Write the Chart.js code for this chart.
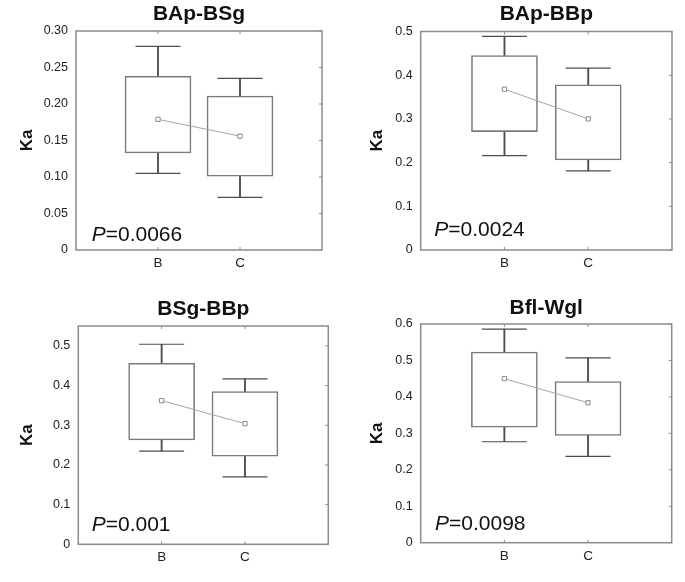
<!DOCTYPE html>
<html>
<head>
<meta charset="utf-8">
<script src="https://cdn.jsdelivr.net/npm/chart.js@4/dist/chart.umd.min.js"></script>
<style>
  body { margin: 0; background: #fff; }
  canvas { position: absolute; }
</style>
</head>
<body>
<canvas id="c0"></canvas>
<canvas id="c1"></canvas>
<canvas id="c2"></canvas>
<canvas id="c3"></canvas>
<script>
// data, one entry per panel, [B, C] inside
const categories = ['B', 'C'];
const titles = ['BAp-BSg', 'BAp-BBp', 'BSg-BBp', 'Bfl-Wgl'];
const pValues = ['0.0066', '0.0024', '0.001', '0.0098'];
const whiskerHigh = [[0.279, 0.235], [0.489, 0.416], [0.504, 0.417], [0.586, 0.507]];
const boxHigh     = [[0.238, 0.211], [0.445, 0.378], [0.456, 0.385], [0.523, 0.442]];
const boxLow      = [[0.133, 0.101], [0.271, 0.206], [0.263, 0.222], [0.317, 0.294]];
const whiskerLow  = [[0.105, 0.072], [0.216, 0.181], [0.235, 0.170], [0.277, 0.237]];
const means       = [[0.179, 0.156], [0.368, 0.300], [0.362, 0.304], [0.450, 0.384]];
const yMax = [0.30, 0.5, 0.55, 0.6];
const yTicks = [
  [0, 0.05, 0.10, 0.15, 0.20, 0.25, 0.30],
  [0, 0.1, 0.2, 0.3, 0.4, 0.5],
  [0, 0.1, 0.2, 0.3, 0.4, 0.5],
  [0, 0.1, 0.2, 0.3, 0.4, 0.5, 0.6]
];
const yTickLabels = [
  ['0', '0.05', '0.10', '0.15', '0.20', '0.25', '0.30'],
  ['0', '0.1', '0.2', '0.3', '0.4', '0.5'],
  ['0', '0.1', '0.2', '0.3', '0.4', '0.5'],
  ['0', '0.1', '0.2', '0.3', '0.4', '0.5', '0.6']
];

// layout of each panel
const panels = [
  { left: 0,   top: 0,   w: 340, h: 280, yW: 76,   xH: 30,   padR: 18,   tTop: 2,    tBot: 3.8, ka: 17, pdx: 15.7, pdy: 9.5 },
  { left: 340, top: 0,   w: 345, h: 280, yW: 80.7, xH: 30,   padR: 13,   tTop: 2,    tBot: 4.3, ka: 27, pdx: 13.6, pdy: 14.3 },
  { left: 0,   top: 285, w: 340, h: 297, yW: 78.3, xH: 37.7, padR: 11.7, tTop: 11.4, tBot: 4.4, ka: 17, pdx: 13.4, pdy: 13.3 },
  { left: 340, top: 285, w: 345, h: 297, yW: 80.7, xH: 39.3, padR: 13.3, tTop: 10.9, tBot: 2.9, ka: 27, pdx: 14.3, pdy: 12.7 }
];

const FONT = "'Liberation Sans', Arial, sans-serif";
const frameColor = '#8c8c8c';
const boxColor = '#7a7a7a';
const whiskColor = '#4d4d4d';

// frame, inner tick marks and the P value
const panelDecor = {
  id: 'panelDecor',
  afterDatasetsDraw(chart, args, opts) {
    const { ctx, chartArea: a, scales } = chart;
    ctx.save();
    ctx.strokeStyle = frameColor;
    ctx.lineWidth = 1.5;
    ctx.strokeRect(a.left, a.top, a.right - a.left, a.bottom - a.top);
    ctx.lineWidth = 1;
    ctx.beginPath();
    scales.y.ticks.forEach(t => {
      const y = scales.y.getPixelForValue(t.value);
      ctx.moveTo(a.right, y);
      ctx.lineTo(a.right - 3, y);
    });
    scales.x.ticks.forEach(t => {
      const x = scales.x.getPixelForValue(t.value);
      ctx.moveTo(x, a.top);
      ctx.lineTo(x, a.top + 3);
      ctx.moveTo(x, a.bottom);
      ctx.lineTo(x, a.bottom - 3);
    });
    ctx.stroke();

    ctx.fillStyle = '#111';
    ctx.textBaseline = 'alphabetic';
    ctx.textAlign = 'left';
    const x0 = a.left + opts.dx, y0 = a.bottom - opts.dy;
    ctx.font = 'italic 21px ' + FONT;
    ctx.fillText('P', x0, y0);
    const pw = ctx.measureText('P').width;
    ctx.font = '21px ' + FONT;
    ctx.fillText('=' + opts.text, x0 + pw, y0);
    ctx.restore();
  }
};

panels.forEach((p, i) => {
  const cv = document.getElementById('c' + i);
  cv.width = p.w; cv.height = p.h;
  cv.style.left = p.left + 'px'; cv.style.top = p.top + 'px';
  cv.style.width = p.w + 'px'; cv.style.height = p.h + 'px';

  const xs = [1, 2];
  const stems = xs.map((x, k) => ({ x, y: [whiskerLow[i][k], whiskerHigh[i][k]] }));
  const boxes = xs.map((x, k) => ({ x, y: [boxLow[i][k], boxHigh[i][k]] }));
  const caps = xs.flatMap((x, k) => [{ x, y: whiskerLow[i][k] }, { x, y: whiskerHigh[i][k] }]);
  const meanPts = xs.map((x, k) => ({ x, y: means[i][k] }));

  new Chart(cv, {
    type: 'bar',
    data: {
      datasets: [
        { type: 'line', data: meanPts, order: 0, borderColor: '#a6a6a6', borderWidth: 1,
          pointStyle: 'rect', pointRadius: 3, pointBackgroundColor: '#fff',
          pointBorderColor: '#8a8a8a', pointBorderWidth: 1 },
        { data: boxes, order: 1, grouped: false, barThickness: 66, backgroundColor: '#fff',
          borderColor: boxColor, borderWidth: 1.6, borderSkipped: false },
        { type: 'line', data: caps, order: 2, showLine: false, pointStyle: 'line',
          pointRadius: 22.5, borderColor: whiskColor, pointBorderColor: whiskColor, pointBorderWidth: 1.2 },
        { data: stems, order: 3, grouped: false, barThickness: 1.2, backgroundColor: whiskColor, borderWidth: 0 }
      ]
    },
    options: {
      responsive: false,
      animation: false,
      devicePixelRatio: 1,
      layout: { autoPadding: false, padding: { left: 0, top: 0, right: p.padR, bottom: 0 } },
      plugins: {
        legend: { display: false },
        tooltip: { enabled: false },
        title: {
          display: true, text: titles[i], color: '#111', fullSize: false,
          font: { family: FONT, size: 21, weight: 'bold' },
          padding: { top: p.tTop, bottom: p.tBot }
        },
        panelDecor: { text: pValues[i], dx: p.pdx, dy: p.pdy }
      },
      scales: {
        x: {
          type: 'linear', min: 0, max: 3, offset: false,
          grid: { display: false, drawTicks: false, offset: false },
          border: { display: false },
          afterBuildTicks: s => { s.ticks = xs.map(v => ({ value: v })); },
          afterFit: s => { s.height = p.xH; s.paddingLeft = 0; s.paddingRight = 0; },
          ticks: {
            padding: 5, color: '#222', font: { family: FONT, size: 13.5 },
            callback: v => categories[v - 1] || ''
          }
        },
        y: {
          min: 0, max: yMax[i],
          grid: { display: false, drawTicks: false },
          border: { display: false },
          afterBuildTicks: s => { s.ticks = yTicks[i].map(v => ({ value: v })); },
          afterFit: s => { s.width = p.yW; s.paddingTop = 0; s.paddingBottom = 0; },
          ticks: {
            padding: 8, color: '#222', font: { family: FONT, size: 12.5 },
            callback: (v, idx) => yTickLabels[i][idx]
          },
          title: {
            display: true, text: 'Ka', color: '#111',
            font: { family: FONT, size: 17, weight: 'bold' },
            padding: { top: p.ka, bottom: 0 }
          }
        }
      }
    },
    plugins: [panelDecor]
  });
});
</script>
</body>
</html>
